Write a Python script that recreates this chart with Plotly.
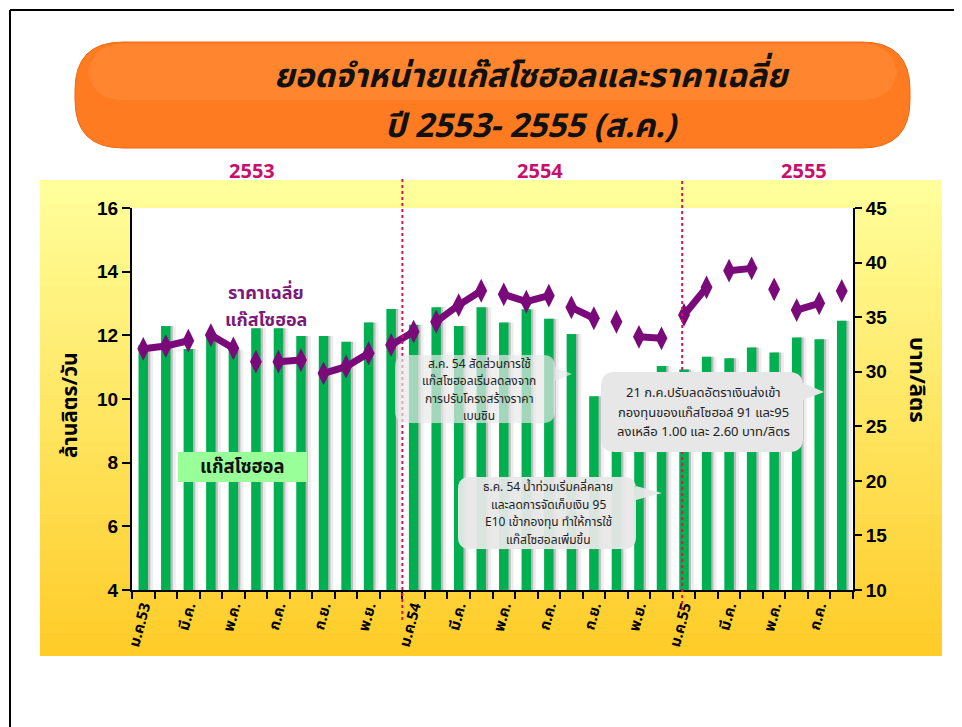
import plotly.graph_objects as go

# ---------------- data ----------------
months = ["ม.ค.53", "ก.พ.53", "มี.ค.53", "เม.ย.53", "พ.ค.53", "มิ.ย.53", "ก.ค.53", "ส.ค.53",
          "ก.ย.53", "ต.ค.53", "พ.ย.53", "ธ.ค.53",
          "ม.ค.54", "ก.พ.54", "มี.ค.54", "เม.ย.54", "พ.ค.54", "มิ.ย.54", "ก.ค.54", "ส.ค.54",
          "ก.ย.54", "ต.ค.54", "พ.ย.54", "ธ.ค.54",
          "ม.ค.55", "ก.พ.55", "มี.ค.55", "เม.ย.55", "พ.ค.55", "มิ.ย.55", "ก.ค.55", "ส.ค.55"]

# gasohol sales, million litres / day
sales = [11.70, 12.29, 11.57, 12.00, 11.55, 12.22, 12.22, 11.98, 11.98, 11.80, 12.40, 12.83,
         12.33, 12.88, 12.29, 12.88, 12.40, 12.82, 12.52, 12.04, 10.09, 9.50, 9.30, 11.04,
         10.93, 11.33, 11.28, 11.62, 11.46, 11.93, 11.88, 12.46]

# average gasohol price, baht / litre
price = [32.10, 32.35, 32.84, 33.36, 32.14, 30.92, 30.92, 31.07, 29.85, 30.46, 31.69, 32.45,
         33.67, 34.58, 36.11, 37.42, 37.09, 36.42, 36.97, 35.90, 34.90, 34.58, 33.20, 33.06,
         35.20, 37.73, 39.26, 39.47, 37.55, 35.65, 36.27, 37.40]

tick_labels = ["ม.ค.53", "มี.ค.", "พ.ค.", "ก.ค.", "ก.ย.", "พ.ย.",
               "ม.ค.54", "มี.ค.", "พ.ค.", "ก.ค.", "ก.ย.", "พ.ย.",
               "ม.ค.55", "มี.ค.", "พ.ค.", "ก.ค."]
year_labels = ["2553", "2554", "2555"]

note_aug54 = ["ส.ค. 54 สัดส่วนการใช้", "แก๊สโซฮอลเริ่มลดลงจาก", "การปรับโครงสร้างราคา", "เบนซิน"]
note_dec54 = ["ธ.ค. 54 น้ำท่วมเริ่มคลี่คลาย", "และลดการจัดเก็บเงิน 95",
              "E10 เข้ากองทุน ทำให้การใช้", "แก๊สโซฮอลเพิ่มขึ้น"]
note_jul55 = ["21 ก.ค.ปรับลดอัตราเงินส่งเข้า", "กองทุนของแก๊สโซฮอล์ 91 และ95",
              "ลงเหลือ 1.00 และ 2.60 บาท/ลิตร"]

# the price line is drawn in broken pieces (style): index groups
line_pieces = [[0, 1, 2], [3, 4], [5], [6, 7], [8, 9, 10], [11, 12], [13, 14, 15],
               [16, 17, 18], [19, 20], [21], [22, 23], [24, 25], [26, 27], [28],
               [29, 30], [31]]

# ---------------- geometry helpers (reference pixels -> paper) ----------------
OFF = 8                      # page body margin of the browser
W, H = 962 - OFF, 727 - OFF
L, R, T, B = 132, 853, 208, 590   # plot area in reference pixels


def px(x):
    return (x - L) / (R - L)


def py(y):
    return (B - y) / (B - T)


def rrect_path(x0, y0, x1, y1, r, tip=None):
    pts = [f"M {px(x0 + r)},{py(y0)}", f"L {px(x1 - r)},{py(y0)}",
           f"Q {px(x1)},{py(y0)} {px(x1)},{py(y0 + r)}"]
    if tip is not None:
        tx, ty, b0, b1 = tip
        pts += [f"L {px(x1)},{py(b0)}", f"L {px(tx)},{py(ty)}", f"L {px(x1)},{py(b1)}"]
    pts += [f"L {px(x1)},{py(y1 - r)}", f"Q {px(x1)},{py(y1)} {px(x1 - r)},{py(y1)}",
            f"L {px(x0 + r)},{py(y1)}", f"Q {px(x0)},{py(y1)} {px(x0)},{py(y1 - r)}",
            f"L {px(x0)},{py(y0 + r)}", f"Q {px(x0)},{py(y0)} {px(x0 + r)},{py(y0)}", "Z"]
    return " ".join(pts)


THAI = "Tahoma, 'Noto Sans Thai', 'Loma', 'Garuda', 'Noto Sans', sans-serif"
NUMF = "'Liberation Sans', Arial, sans-serif"
GREEN = "#00B050"
PURPLE = "#7A0A7A"

x_idx = list(range(len(months)))
bar_h = [v - 4 for v in sales]

# ---------------- traces ----------------
fig = go.Figure()
fig.add_trace(go.Bar(x=x_idx, y=bar_h, base=4, width=0.46, offset=-0.02,
                     marker=dict(color="rgba(0,0,0,0.07)", line_width=0),
                     hoverinfo="skip", showlegend=False))
fig.add_trace(go.Bar(x=x_idx, y=bar_h, base=4, width=0.40, offset=-0.09,
                     marker=dict(color="rgba(0,0,0,0.20)", line_width=0),
                     hoverinfo="skip", showlegend=False))
fig.add_trace(go.Bar(x=x_idx, y=bar_h, base=4, width=0.42, offset=-0.21,
                     marker=dict(color=GREEN, line_width=0), name="แก๊สโซฮอล",
                     customdata=months, showlegend=False))

lx, ly = [], []
for piece in line_pieces:
    for i in piece:
        lx.append(x_idx[i])
        ly.append(price[i])
    lx.append(None)
    ly.append(None)
fig.add_trace(go.Scatter(x=lx, y=ly, mode="lines", yaxis="y2",
                         line=dict(color=PURPLE, width=7), hoverinfo="skip",
                         showlegend=False))
fig.add_trace(go.Scatter(x=x_idx, y=price, mode="markers", yaxis="y2",
                         marker=dict(symbol="diamond-tall", size=17, color=PURPLE,
                                     line=dict(width=0)),
                         name="ราคาเฉลี่ยแก๊สโซฮอล", showlegend=False))

# ---------------- shapes ----------------
shapes = []
top_c = (255, 255, 155)
bot_c = (255, 204, 40)
n_b = 40
y_top, y_bot = 180, 656
for k in range(n_b):
    f = k / (n_b - 1)
    c = tuple(int(round(top_c[j] + (bot_c[j] - top_c[j]) * f)) for j in range(3))
    ya = y_top + (y_bot - y_top) * k / n_b
    yb = y_top + (y_bot - y_top) * (k + 1) / n_b + 0.6
    shapes.append(dict(type="rect", xref="paper", yref="paper", layer="below",
                       x0=px(40), x1=px(942), y0=py(min(yb, y_bot)), y1=py(ya),
                       fillcolor=f"rgb{c}", line_width=0))
shapes.append(dict(type="rect", xref="paper", yref="paper", layer="below",
                   x0=px(L), x1=px(R), y0=py(B), y1=py(T),
                   fillcolor="white", line_width=0))
# slide frame
shapes.append(dict(type="line", xref="paper", yref="paper", x0=px(10), x1=px(975),
                   y0=py(10), y1=py(10), line=dict(color="black", width=2)))
shapes.append(dict(type="line", xref="paper", yref="paper", x0=px(10), x1=px(10),
                   y0=py(10), y1=py(740), line=dict(color="black", width=2)))
# title box
shapes.append(dict(type="path", xref="paper", yref="paper", layer="below",
                   path=rrect_path(75, 42, 910, 148, 48),
                   fillcolor="#FF7B22", line=dict(color="#F06A14", width=1)))
shapes.append(dict(type="path", xref="paper", yref="paper", layer="below",
                   path=rrect_path(88, 44, 897, 100, 36),
                   fillcolor="rgba(255,170,95,0.22)", line_width=0))
# label box
shapes.append(dict(type="rect", xref="paper", yref="paper", layer="above",
                   x0=px(178), x1=px(307), y0=py(482), y1=py(452),
                   fillcolor="#99FF99", line_width=0))
# year dividers
shapes.append(dict(type="line", xref="x", yref="paper", x0=11.5, x1=11.5,
                   y0=py(620), y1=py(178), line=dict(color="#D4145A", width=2, dash="dot")))
shapes.append(dict(type="line", xref="x", yref="paper", x0=23.92, x1=23.92,
                   y0=py(610), y1=py(178), line=dict(color="#D4145A", width=2, dash="dot")))
# callouts
shapes.append(dict(type="path", xref="paper", yref="paper", layer="above",
                   path=rrect_path(395, 355, 555, 423, 12, tip=(572, 374, 367, 381)),
                   fillcolor="rgba(232,232,232,0.70)", line_width=0))
shapes.append(dict(type="path", xref="paper", yref="paper", layer="above",
                   path=rrect_path(458, 477, 636, 549, 12, tip=(662, 493, 486, 500)),
                   fillcolor="rgba(232,232,232,0.94)", line_width=0))
shapes.append(dict(type="path", xref="paper", yref="paper", layer="above",
                   path=rrect_path(601, 372, 803, 452, 14, tip=(824, 392, 383, 400)),
                   fillcolor="rgb(231,231,231)", line_width=0))

# ---------------- annotations ----------------
ann = []


def text(x, y, s, size, color="black", bold=False, italic=False, xanchor="center",
         yanchor="middle", angle=0, family=THAI):
    if bold:
        s = "<b>" + s + "</b>"
    if italic:
        s = "<i>" + s + "</i>"
    ann.append(dict(xref="paper", yref="paper", x=px(x), y=py(y), text=s,
                    showarrow=False, xanchor=xanchor, yanchor=yanchor, textangle=angle,
                    font=dict(family=family, size=size, color=color)))


text(532, 77, "ยอดจำหน่ายแก๊สโซฮอลและราคาเฉลี่ย", 33, "#111111", bold=True, italic=True)
text(532, 127, "ปี 2553- 2555 (ส.ค.)", 33, "#111111", bold=True, italic=True)
for lbl, xx in zip(year_labels, [252, 540, 804]):
    text(xx, 172, lbl, 20, "#C8106A", bold=True)
text(70, 405, "ล้านลิตร/วัน", 21, bold=True, angle=-90)
text(917, 380, "บาท/ลิตร", 22, bold=True, angle=90)
text(266, 293, "ราคาเฉลี่ย", 18, "#7A1A7A", bold=True)
text(266, 320, "แก๊สโซฮอล", 18, "#7A1A7A", bold=True)
text(242, 467, "แก๊สโซฮอล", 18.5, "#111111", bold=True)
for i, s in enumerate(note_aug54):
    text(479, 363.5 + i * 17.5, s, 12, "#222222")
for i, s in enumerate(note_dec54):
    text(548, 487 + i * 17.5, s, 12, "#222222")
for i, s in enumerate(note_jul55):
    text(703, 393 + i * 19.5, s, 13, "#222222")

# ---------------- layout ----------------
AX_COMMON = dict(showgrid=False, zeroline=False)
fig.update_layout(
    width=W, height=H, autosize=False,
    margin=dict(l=L - OFF, r=W - (R - OFF), t=T - OFF, b=H - (B - OFF), pad=0),
    paper_bgcolor="white", plot_bgcolor="rgba(0,0,0,0)",
    barmode="overlay", showlegend=False,
    shapes=shapes, annotations=ann,
    xaxis=dict(range=[-0.5, len(months) - 0.5], tickmode="array",
               tickvals=list(range(0, len(months), 2)), ticktext=tick_labels,
               tickangle=-75, ticks="", showline=True, linecolor="black", linewidth=2,
               tickfont=dict(family=THAI, size=15, color="black", weight="bold"),
               minor=dict(ticks="outside", tick0=-0.5, dtick=1, ticklen=7, tickwidth=2,
                          tickcolor="black", showgrid=False), **AX_COMMON),
    xaxis2=dict(range=[-0.5, len(months) - 0.5], overlaying="x", anchor="y", side="bottom",
                tickmode="linear", tick0=-0.5, dtick=1, ticks="inside", ticklen=5,
                tickwidth=2, tickcolor="black", showticklabels=False, showline=False,
                **AX_COMMON),
    yaxis=dict(range=[4, 16], dtick=2, ticks="outside", ticklen=8, tickwidth=2,
               tickcolor="black", showline=True, linecolor="black", linewidth=2,
               tickfont=dict(family=NUMF, size=19, color="black", weight="bold"),
               **AX_COMMON),
    yaxis2=dict(range=[10, 45], dtick=5, overlaying="y", side="right", ticks="outside",
                ticklen=7, tickwidth=2, tickcolor="black", showline=True,
                linecolor="black", linewidth=2,
                tickfont=dict(family=NUMF, size=19, color="black", weight="bold"),
                **AX_COMMON),
    yaxis3=dict(range=[10, 45], dtick=5, overlaying="y", side="right", anchor="x",
                ticks="inside", ticklen=5, tickwidth=2, tickcolor="black",
                showticklabels=False, showline=False, **AX_COMMON),
)

fig.write_html("out.html")
